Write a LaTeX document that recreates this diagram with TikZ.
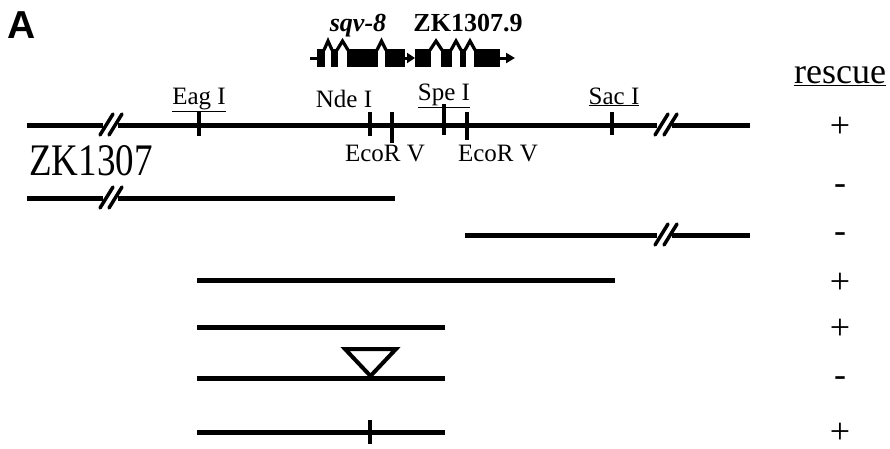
\documentclass[tikz,border=0pt]{standalone}
\usepackage{fontspec}
\setmainfont{Liberation Serif}
\newfontfamily\panelfont{Liberation Sans}
\usetikzlibrary{arrows.meta}
\tikzset{
  dna/.style={line width=5pt},
  site/.style={line width=4pt},
  enz/.style={inner sep=0pt, font=\fontsize{25}{28}\selectfont},
  sign/.style={inner sep=0pt, font=\fontsize{36}{38}\selectfont},
  intron/.style={line width=3.2pt, line join=miter, miter limit=10},
  brk/.style={line width=3.5pt, line cap=round},
  genelabel/.style={anchor=base, inner sep=0pt},
}
\begin{document}
\begin{tikzpicture}[x=1pt, y=-1pt]
\useasboundingbox (0,0) rectangle (890,448);

% panel letter
\node[anchor=north west, inner sep=0pt, font=\panelfont\bfseries\fontsize{39}{40}\selectfont] (panel) at (7,11) {A};

% gene model: sqv-8 and ZK1307.9
\node[genelabel, font=\bfseries\itshape\fontsize{26}{28}\selectfont] (sqv) at (358,31) {sqv-8};
\node[genelabel, font=\bfseries\fontsize{26}{28}\selectfont] (zkg) at (468,31) {ZK1307.9};

\draw[line width=3pt] (310,58) -- (317,58);
\fill (317,49) rectangle (325,67);
\draw[intron] (324,50) -- (328,41) -- (332,50);
\fill (331,49) rectangle (338,67);
\draw[intron] (337,50) -- (342.5,41) -- (348,50);
\fill (347,49) rectangle (378,67);
\draw[intron] (377,50) -- (381.5,41) -- (386,50);
\fill (385,49) rectangle (405,67);
\draw[line width=3pt, -{Triangle[length=8pt,width=10pt]}] (404,58) -- (415,58);

\fill (415,49) rectangle (431,67);
\draw[intron] (430,50) -- (436,41) -- (442,50);
\fill (441,49) rectangle (452,67);
\draw[intron] (451,50) -- (456,41) -- (461,50);
\fill (460,49) rectangle (466,67);
\draw[intron] (465,50) -- (470,41) -- (475,50);
\fill (474,49) rectangle (500,67);
\draw[line width=3pt, -{Triangle[length=9pt,width=10pt]}] (499,58) -- (515,58);

% genomic map of ZK1307
\coordinate (m0) at (27,125);
\coordinate (m1) at (750,125);
\draw[dna] (m0) -- (103,125);
\draw[dna] (118,125) -- (657,125);
\draw[dna] (672,125) -- (m1);
\draw[brk] (100,135) -- (113,114);
\draw[brk] (109,135) -- (122,114);
\draw[brk] (655,135) -- (668,114);
\draw[brk] (664,135) -- (677,114);

% restriction sites
\draw[site] (199,112) -- (199,136);
\draw[site] (370,112) -- (370,136);
\draw[site] (392,112) -- (392,143);
\draw[site] (444,104) -- (444,135);
\draw[site] (467,112) -- (467,140);
\draw[site] (612,112) -- (612,135);

\node[enz, anchor=base] (eag) at (199,104) {\underline{Eag I}};
\node[enz, anchor=base] (nde) at (344,107) {Nde I};
\node[enz, anchor=base] (spe) at (444,100) {\underline{Spe I}};
\node[enz, anchor=base] (sac) at (614,104) {\underline{Sac I}};
\node[enz, anchor=base] (eco1) at (385,161) {EcoR V};
\node[enz, anchor=base] (eco2) at (498,161) {EcoR V};
\node[anchor=base west, inner sep=0pt, font=\fontsize{37}{40}\selectfont] (zk) at (29,175) {\scalebox{1}[1.22]{ZK1307}};

% subclones
\draw[dna] (27,198) -- (103,198);
\draw[dna] (118,198) -- (395,198);
\draw[brk] (100,208) -- (113,187);
\draw[brk] (109,208) -- (122,187);

\draw[dna] (465,235) -- (657,235);
\draw[dna] (672,235) -- (750,235);
\draw[brk] (655,245) -- (668,224);
\draw[brk] (664,245) -- (677,224);

\draw[dna] (197,280) -- (615,280);
\draw[dna] (197,327) -- (445,327);
\draw[dna] (197,378) -- (445,378);
\draw[line width=4pt, line join=miter] (345,349) -- (396,349) -- (370.5,376) -- cycle;
\draw[dna] (197,432) -- (445,432);
\draw[site] (370,420) -- (370,444);

% rescue column
\node[anchor=base, inner sep=0pt, font=\fontsize{36}{38}\selectfont] (rescue) at (840,83) {\underline{rescue}};
\node[sign] (r0) at (840,127) {+};
\node[sign] (r1) at (840,190) {-};
\node[sign] (r2) at (840,238) {-};
\node[sign] (r3) at (840,283) {+};
\node[sign] (r4) at (840,329) {+};
\node[sign] (r5) at (840,382) {-};
\node[sign] (r6) at (840,433) {+};
\end{tikzpicture}
\end{document}
